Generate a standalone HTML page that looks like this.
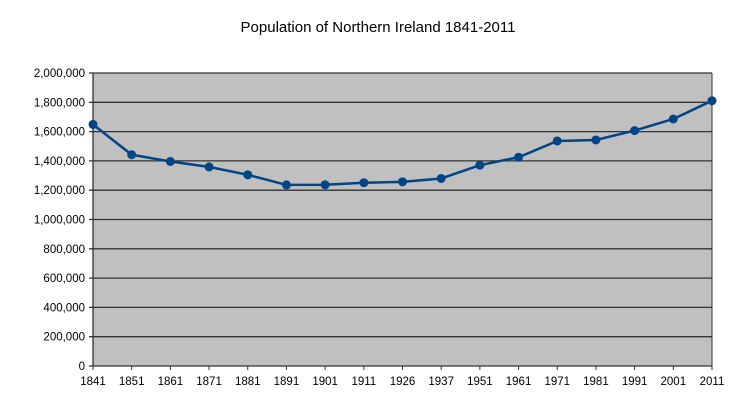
<!DOCTYPE html>
<html><head><meta charset="utf-8"><style>body{margin:0;background:#fff}svg{display:block;font-family:"Liberation Sans",sans-serif}</style></head>
<body>
<svg id="c" width="755" height="412"></svg>
<script>
const categories=["1841","1851","1861","1871","1881","1891","1901","1911","1926","1937","1951","1961","1971","1981","1991","2001","2011"];
const population=[1649000,1442000,1396000,1359000,1305000,1236000,1237000,1251000,1257000,1280000,1371000,1425000,1536000,1543000,1607000,1686000,1811000];
const yTicks=[0,200000,400000,600000,800000,1000000,1200000,1400000,1600000,1800000,2000000];
const L=93,R=712,T=73,B=366,yMax=2000000;
const ns="http://www.w3.org/2000/svg",svg=document.getElementById('c');
function mk(t,a,p){const e=document.createElementNS(ns,t);for(const k in a)e.setAttribute(k,a[k]);(p||svg).appendChild(e);return e;}
const xS=i=>L+i*(R-L)/(categories.length-1);
const yS=v=>B-v/yMax*(B-T);
let t=mk('text',{x:378,y:32,'text-anchor':'middle','font-size':15,fill:'#000'});t.textContent='Population of Northern Ireland 1841-2011';

let bg=mk('rect',{x:L,y:T,width:R-L,height:B-T,fill:'#c0c0c0'});

yTicks.forEach(v=>{const y=yS(v);
 const g=mk('line',{x1:L-4,x2:R,y1:y,y2:y,stroke:'#333','stroke-width':1.3});
 
 const l=mk('text',{x:L-8,y:y+4,'text-anchor':'end','font-size':11.5,fill:'#000'});l.textContent=v.toLocaleString('en-US');
 });
mk('line',{x1:L,x2:L,y1:T,y2:B,stroke:'#333','stroke-width':1.3});
mk('line',{x1:R,x2:R,y1:T,y2:B,stroke:'#333','stroke-width':1});
categories.forEach((c,i)=>{const x=xS(i);
 mk('line',{x1:x,x2:x,y1:B,y2:B+4,stroke:'#333','stroke-width':1});
 const l=mk('text',{x:x,y:385,'text-anchor':'middle','font-size':11.5,fill:'#000'});l.textContent=c;
 });
const p=mk('polyline',{points:population.map((v,i)=>xS(i)+','+yS(v)).join(' '),fill:'none',stroke:'#004586','stroke-width':2.5});

population.forEach((v,i)=>{const d=mk('circle',{cx:xS(i),cy:yS(v),r:4.5,fill:'#004586'});
 });
</script>
</body></html>
